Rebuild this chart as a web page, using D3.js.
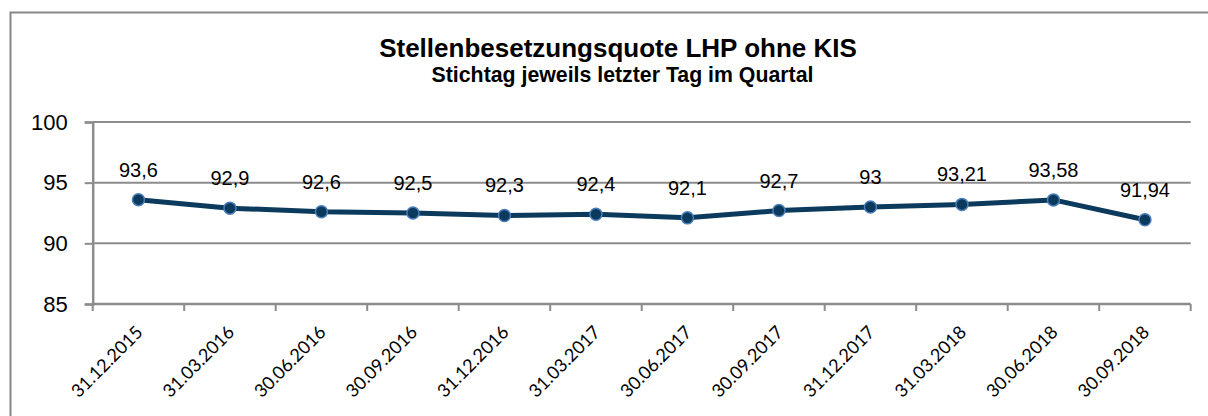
<!DOCTYPE html>
<html>
<head>
<meta charset="utf-8">
<script src="https://cdn.jsdelivr.net/npm/d3@7"></script>
<style>
  body { margin: 0; background: #fff; }
  svg { display: block; }
</style>
</head>
<body>
<svg></svg>
<script>
// quarter end dates and the rate for each
var dates = ["31.12.2015","31.03.2016","30.06.2016","30.09.2016","31.12.2016","31.03.2017",
             "30.06.2017","30.09.2017","31.12.2017","31.03.2018","30.06.2018","30.09.2018"];
var quote = [93.6, 92.9, 92.6, 92.5, 92.3, 92.4, 92.1, 92.7, 93, 93.21, 93.58, 91.94];
var labels = ["93,6","92,9","92,6","92,5","92,3","92,4","92,1","92,7","93","93,21","93,58","91,94"];
var yTicks = [85, 90, 95, 100];

var screen = {width:1208, height:416};
var margins = {left:92.7, right:17.3, top:122, bottom:112};
var graph = {
    width: screen.width - margins.left - margins.right,
    height: screen.height - margins.top - margins.bottom
};

var svg = d3.select("svg")
    .attr("width", screen.width)
    .attr("height", screen.height);

// outer frame (left + top only visible)
svg.append("path")
    .attr("d", "M10.5,416 L10.5,12.5 L1208,12.5")
    .attr("fill", "none")
    .attr("stroke", "#888")
    .attr("stroke-width", 2);

svg.append("text")
    .attr("x", 618).attr("y", 57)
    .attr("text-anchor", "middle")
    .style("font-family", "Liberation Sans, Arial, sans-serif")
    .style("font-weight", "bold")
    .style("font-size", "26px")
    .text("Stellenbesetzungsquote LHP ohne KIS");

svg.append("text")
    .attr("x", 622.5).attr("y", 82)
    .attr("text-anchor", "middle")
    .style("font-family", "Liberation Sans, Arial, sans-serif")
    .style("font-weight", "bold")
    .style("font-size", "21.3px")
    .text("Stichtag jeweils letzter Tag im Quartal");

var target = svg.append("g")
    .attr("transform", "translate(" + margins.left + "," + margins.top + ")");

var xScale = d3.scaleBand()
    .domain(dates)
    .range([0, graph.width]);

var yScale = d3.scaleLinear()
    .domain([85, 100])
    .range([graph.height, 0]);

// gridlines
target.selectAll(".grid")
    .data(yTicks.slice(1))
    .enter()
    .append("line")
    .attr("x1", 0).attr("x2", graph.width)
    .attr("y1", function(d){ return yScale(d); })
    .attr("y2", function(d){ return yScale(d); })
    .attr("stroke", "#8c8c8c")
    .attr("stroke-width", 2);

// y axis
var yAxis = target.append("g")
    .call(d3.axisLeft(yScale).tickValues(yTicks).tickSize(8).tickPadding(17));
yAxis.select(".domain").attr("stroke", "#8c8c8c").attr("stroke-width", 2.5);
yAxis.selectAll(".tick line").attr("stroke", "#8c8c8c").attr("stroke-width", 2);
yAxis.selectAll("text")
    .style("font-family", "Liberation Sans, Arial, sans-serif")
    .style("font-size", "22px")
    .attr("fill", "#000");

// x axis: ticks at band boundaries
var xg = target.append("g")
    .attr("transform", "translate(0," + graph.height + ")");
xg.append("line")
    .attr("x1", 0).attr("x2", graph.width)
    .attr("stroke", "#8c8c8c").attr("stroke-width", 2.5);
var bounds = dates.map(function(d){ return xScale(d); }).concat([graph.width]);
xg.selectAll(".xt")
    .data(bounds)
    .enter()
    .append("line")
    .attr("x1", function(d){ return d; })
    .attr("x2", function(d){ return d; })
    .attr("y1", 0).attr("y2", 7)
    .attr("stroke", "#8c8c8c").attr("stroke-width", 2);
xg.selectAll(".xl")
    .data(dates)
    .enter()
    .append("text")
    .attr("transform", function(d){
        return "translate(" + (xScale(d) + xScale.bandwidth()/2 + 1) + ",25) rotate(-45)";
    })
    .attr("text-anchor", "end")
    .attr("dy", "0.35em")
    .style("font-family", "Lato, sans-serif")
    .style("font-size", "18px")
    .text(function(d){ return d; });

// line
var cx = function(d, i){ return xScale(dates[i]) + xScale.bandwidth()/2; };
var line = d3.line()
    .x(function(d, i){ return cx(d, i); })
    .y(function(d){ return yScale(d); });

target.append("path")
    .datum(quote)
    .attr("d", line)
    .attr("fill", "none")
    .attr("stroke", "#0b3a5c")
    .attr("stroke-width", 5)
    .attr("stroke-linejoin", "round");

target.selectAll(".pt")
    .data(quote)
    .enter()
    .append("circle")
    .attr("cx", cx)
    .attr("cy", function(d){ return yScale(d); })
    .attr("r", 6)
    .attr("fill", "#0b3a5c")
    .attr("stroke", "#4a7ebb")
    .attr("stroke-width", 1.5);

target.selectAll(".lbl")
    .data(quote)
    .enter()
    .append("text")
    .attr("x", cx)
    .attr("y", function(d){ return yScale(d) - 23; })
    .attr("text-anchor", "middle")
    .style("font-family", "Liberation Sans, Arial, sans-serif")
    .style("font-size", "20px")
    .text(function(d, i){ return labels[i]; });
</script>
</body>
</html>
